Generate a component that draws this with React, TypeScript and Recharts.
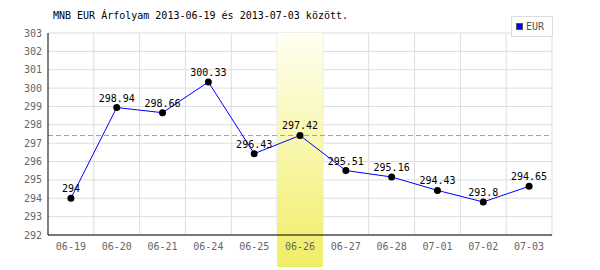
import {
  LineChart,
  Line,
  XAxis,
  YAxis,
  CartesianGrid,
  ReferenceArea,
  ReferenceLine,
  LabelList,
} from 'recharts'

const dates = ['06-19', '06-20', '06-21', '06-24', '06-25', '06-26', '06-27', '06-28', '07-01', '07-02', '07-03']
const eur = [294, 298.94, 298.66, 300.33, 296.43, 297.42, 295.51, 295.16, 294.43, 293.8, 294.65]
const yTicks = [292, 293, 294, 295, 296, 297, 298, 299, 300, 301, 302, 303]
const highlightDay = '06-26'
const highlightValue = 297.42

const data = dates.map((d, i) => ({ date: d, eur: eur[i] }))

const FONT = '"DejaVu Sans Mono", monospace'

// band that runs past the x axis down to the bottom of the picture
function HighlightBand(props: any) {
  const { x, y, width, height } = props
  return <rect x={x} y={y} width={width} height={height + 32} fill="url(#hl)" />
}

export default function App() {
  return (
    <div style={{ position: 'absolute', left: 0, top: 0, width: 600, height: 270, background: '#fff', fontFamily: FONT }}>
      <div style={{ position: 'absolute', left: 53, top: 10, fontSize: 10, color: '#000', whiteSpace: 'pre' }}>
        MNB EUR Árfolyam 2013-06-19 és 2013-07-03 között.
      </div>
      <div
        style={{
          position: 'absolute',
          left: 511,
          top: 16,
          width: 40,
          height: 19,
          border: '1px solid #ddd',
          background: '#fff',
          zIndex: 2,
          display: 'flex',
          alignItems: 'center',
          fontSize: 10,
          color: '#555',
        }}
      >
        <span style={{ display: 'inline-block', width: 5, height: 5, background: '#0000ff', border: '1px solid #555', marginLeft: 4, marginRight: 3 }} />
        EUR
      </div>
      <LineChart width={600} height={270} data={data} margin={{ top: 33, right: 48, bottom: 0, left: 0 }}>
        <defs>
          <linearGradient id="hl" x1="0" y1="0" x2="0" y2="1">
            <stop offset="0%" stopColor="#fffff2" />
            <stop offset="100%" stopColor="#f0ee64" />
          </linearGradient>
        </defs>
        <CartesianGrid
          stroke="#dddddd"
          verticalCoordinatesGenerator={({ offset }: any) =>
            dates.map((_, i) => offset.left + ((i + 1) * offset.width) / dates.length)
          }
        />
        <ReferenceArea x1={highlightDay} x2={highlightDay} shape={<HighlightBand />} ifOverflow="visible" />
        <ReferenceLine y={highlightValue} stroke="#9999ff" strokeDasharray="5 3" />
        <XAxis
          dataKey="date"
          scale="band"
          height={35}
          tickLine={false}
          axisLine={{ stroke: '#000' }}
          tick={{ fontSize: 10, fill: '#666', fontFamily: FONT }}
          interval={0}
        />
        <YAxis
          width={48}
          domain={[292, 303]}
          ticks={yTicks}
          allowDataOverflow
          tickLine={false}
          tickMargin={0}
          axisLine={{ stroke: '#000' }}
          tick={{ fontSize: 10, fill: '#666', fontFamily: FONT }}
          interval={0}
        />
        <Line
          type="linear"
          dataKey="eur"
          stroke="#0000ff"
          strokeWidth={1}
          dot={{ r: 3.5, fill: '#000', stroke: '#000', strokeWidth: 0 }}
          isAnimationActive={false}
        >
          <LabelList dataKey="eur" position="top" offset={6} style={{ fontSize: 10, fill: '#000', fontFamily: FONT }} />
        </Line>
      </LineChart>
    </div>
  )
}
